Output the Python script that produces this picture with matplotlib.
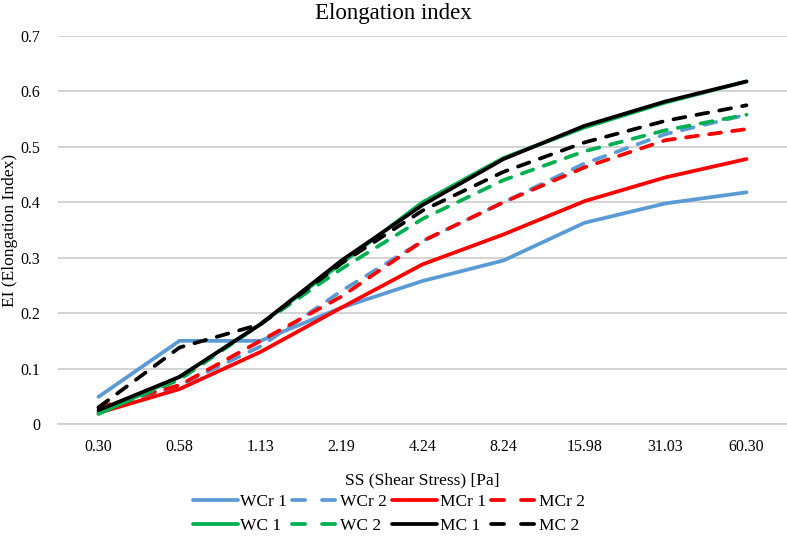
import matplotlib.pyplot as plt
from matplotlib.lines import Line2D

plt.rcParams['font.family'] = ['Liberation Serif', 'DejaVu Serif']

ss_labels = ['0.30', '0.58', '1.13', '2.19', '4.24', '8.24', '15.98', '31.03', '60.30']

wcr1 = [0.049, 0.150, 0.150, 0.210, 0.258, 0.295, 0.363, 0.398, 0.418]
wcr2 = [0.022, 0.070, 0.140, 0.240, 0.330, 0.400, 0.470, 0.523, 0.558]
mcr1 = [0.020, 0.063, 0.130, 0.210, 0.288, 0.342, 0.402, 0.445, 0.478]
mcr2 = [0.030, 0.070, 0.150, 0.230, 0.330, 0.400, 0.463, 0.512, 0.532]
wc1 = [0.018, 0.085, 0.180, 0.290, 0.400, 0.480, 0.535, 0.580, 0.618]
wc2 = [0.020, 0.080, 0.180, 0.280, 0.370, 0.440, 0.492, 0.530, 0.558]
mc1 = [0.025, 0.085, 0.180, 0.295, 0.395, 0.478, 0.538, 0.582, 0.618]
mc2 = [0.030, 0.138, 0.180, 0.290, 0.385, 0.455, 0.508, 0.547, 0.575]

blue = '#5B9BD5'
red = '#FF0000'
green = '#00B050'
black = '#000000'

fig = plt.figure(figsize=(7.87, 5.39), dpi=100)
ax = fig.add_axes([58 / 787, 1 - 424 / 539, 729 / 787, 388 / 539])

x = list(range(len(ss_labels)))
lw = 2.7
dash = (3.2, 3.0)

series = [
    ('WCr 1', wcr1, blue, False),
    ('WCr 2', wcr2, blue, True),
    ('MCr 1', mcr1, red, False),
    ('MCr 2', mcr2, red, True),
    ('WC 1', wc1, green, False),
    ('WC 2', wc2, green, True),
    ('MC 1', mc1, black, False),
    ('MC 2', mc2, black, True),
]

handles = {}
for name, vals, col, dashed in series:
    if dashed:
        ax.plot(x, vals, color=col, lw=lw, dashes=dash,
                dash_capstyle='round', solid_capstyle='round')
        # legend sample uses a longer dash like the original
        handles[name] = Line2D([], [], color=col, lw=lw, dashes=(3.5, 4.5),
                               dash_capstyle='round')
    else:
        ax.plot(x, vals, color=col, lw=lw, solid_capstyle='round')
        handles[name] = Line2D([], [], color=col, lw=lw, solid_capstyle='round')

ax.set_xlim(-0.5, len(ss_labels) - 0.5)
ax.set_ylim(0, 0.7)
ax.set_yticks([0, 0.1, 0.2, 0.3, 0.4, 0.5, 0.6, 0.7])
ax.set_yticklabels(['0', '0.1', '0.2', '0.3', '0.4', '0.5', '0.6', '0.7'])
ax.set_xticks(x)
ax.set_xticklabels(ss_labels)
ax.tick_params(length=0, labelsize=11.5, pad=11)
ax.tick_params(axis='y', pad=13)
ax.grid(axis='y', color='#D0D0D0', lw=1.3)
ax.set_axisbelow(True)
for s in ['top', 'right', 'left']:
    ax.spines[s].set_visible(False)
ax.spines['bottom'].set_color('#D0D0D0')
ax.spines['bottom'].set_linewidth(1.3)

fig.text(0.5, 1 - 14 / 539, 'Elongation index', fontsize=16.5, ha='center', va='center')
ax.set_xlabel('SS (Shear Stress) [Pa]', fontsize=12.5, labelpad=12)
ax.set_ylabel('EI (Elongation Index)', fontsize=12.5)
ax.yaxis.set_label_coords(-0.055, 0.5)

order = ['WCr 1', 'WC 1', 'WCr 2', 'WC 2', 'MCr 1', 'MC 1', 'MCr 2', 'MC 2']
fig.legend([handles[n] for n in order], order, loc='center',
           bbox_to_anchor=(0.494, 1 - 514 / 539), ncol=4, frameon=False, fontsize=12.5,
           handlelength=2.6, handletextpad=0.15, columnspacing=0.3,
           labelspacing=0.5)

fig.savefig('out.png', dpi=100)
